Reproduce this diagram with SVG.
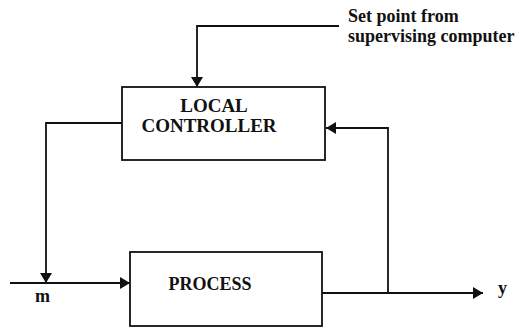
<svg xmlns="http://www.w3.org/2000/svg" width="517" height="328" viewBox="0 0 517 328">
<style>
.box{fill:#fff;stroke:#111;stroke-width:1.8}
.ln{fill:none;stroke:#111;stroke-width:1.8}
.t{font-family:"Liberation Serif","DejaVu Serif",serif;font-weight:bold;fill:#111}
</style>
<defs>
<marker id="ah" viewBox="0 0 10 12" refX="10" refY="6" markerWidth="10" markerHeight="12" markerUnits="userSpaceOnUse" orient="auto">
<path d="M0,0 L10,6 L0,12 Z" fill="#111"/>
</marker>
</defs>
<rect width="517" height="328" fill="#fff"/>
<g id="connectors">
<path class="ln" d="M339,26 H197 V87" marker-end="url(#ah)"/>
<path class="ln" d="M122,123 H46 V283" marker-end="url(#ah)"/>
<path class="ln" d="M10,283 H130" marker-end="url(#ah)"/>
<path class="ln" d="M322,293 H483" marker-end="url(#ah)"/>
<path class="ln" d="M388,293 V128 H326" marker-end="url(#ah)"/>
</g>
<g id="local-controller">
<rect class="box" x="122" y="87" width="203" height="73"/>
<text class="t" x="214" y="112" font-size="19" text-anchor="middle">LOCAL</text>
<text class="t" x="209" y="132" font-size="19" text-anchor="middle">CONTROLLER</text>
</g>
<g id="process">
<rect class="box" x="130" y="252" width="192" height="74"/>
<text class="t" x="210" y="290" font-size="18" text-anchor="middle">PROCESS</text>
</g>
<g id="setpoint-label">
<text class="t" x="348" y="22" font-size="18">Set point from</text>
<text class="t" x="348" y="42" font-size="18">supervising computer</text>
</g>
<g id="labels">
<text class="t" x="35" y="302" font-size="18">m</text>
<text class="t" x="498" y="294" font-size="18">y</text>
</g>
</svg>
